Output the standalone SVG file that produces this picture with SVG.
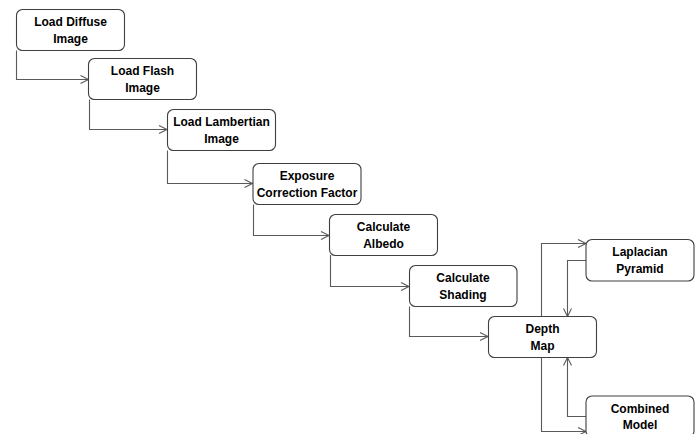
<svg xmlns="http://www.w3.org/2000/svg" width="699" height="434" viewBox="0 0 699 434">
<defs>
<style>
.box{fill:#ffffff;stroke:#3f3f3f;stroke-width:1.1}
.t{font-family:"Liberation Sans",Arial,sans-serif;font-weight:bold;font-size:12px;fill:#000;text-anchor:middle}
.c{fill:none;stroke:#5a5a5a;stroke-width:1.1}
</style>
<marker id="ah" markerUnits="userSpaceOnUse" markerWidth="10" markerHeight="10" refX="8" refY="4" orient="auto" viewBox="0 0 10 8" overflow="visible">
<path d="M0,0 L8,4 L0,8" fill="none" stroke="#5a5a5a" stroke-width="1.1"/>
</marker>
</defs>
<rect width="699" height="434" fill="#ffffff"/>
<g id="connectors">
<path class="c" d="M16.5,50.5 V79.5 H88.5" marker-end="url(#ah)"/>
<path class="c" d="M89.5,99.5 V129.5 H167" marker-end="url(#ah)"/>
<path class="c" d="M167.5,150.5 V183.5 H252.5" marker-end="url(#ah)"/>
<path class="c" d="M253.5,204.5 V235.5 H329" marker-end="url(#ah)"/>
<path class="c" d="M330.5,255 V286.5 H409" marker-end="url(#ah)"/>
<path class="c" d="M409.5,306.5 V336.5 H488" marker-end="url(#ah)"/>
<path class="c" d="M541.5,316.5 V243.5 H586" marker-end="url(#ah)"/>
<path class="c" d="M586,260.5 H567.5 V316.5" marker-end="url(#ah)"/>
<path class="c" d="M541.5,357.5 V431.5 H586" marker-end="url(#ah)"/>
<path class="c" d="M586,416.5 H567.5 V357.5" marker-end="url(#ah)"/>
</g>
<g id="n1"><rect class="box" x="16.5" y="9.5" width="108" height="41" rx="6"/><text class="t" x="70.5" y="26">Load Diffuse</text><text class="t" x="70.5" y="42.5">Image</text></g>
<g id="n2"><rect class="box" x="88.5" y="58.5" width="108" height="41" rx="6"/><text class="t" x="142.5" y="75">Load Flash</text><text class="t" x="142.5" y="91.5">Image</text></g>
<g id="n3"><rect class="box" x="167.5" y="109.5" width="108" height="41" rx="6"/><text class="t" x="221.5" y="126">Load Lambertian</text><text class="t" x="221.5" y="142.5">Image</text></g>
<g id="n4"><rect class="box" x="253" y="163.5" width="108" height="41" rx="6"/><text class="t" x="307" y="180">Exposure</text><text class="t" x="307" y="196.5">Correction Factor</text></g>
<g id="n5"><rect class="box" x="329.5" y="214.5" width="108" height="41" rx="6"/><text class="t" x="383.5" y="231">Calculate</text><text class="t" x="383.5" y="247.5">Albedo</text></g>
<g id="n6"><rect class="box" x="409.5" y="265.5" width="107.5" height="41" rx="6"/><text class="t" x="463" y="282">Calculate</text><text class="t" x="463" y="298.5">Shading</text></g>
<g id="n7"><rect class="box" x="488.5" y="316.5" width="108" height="41" rx="6"/><text class="t" x="542.5" y="333">Depth</text><text class="t" x="542.5" y="349.5">Map</text></g>
<g id="n8"><rect class="box" x="586" y="239.5" width="108" height="41.5" rx="6"/><text class="t" x="640" y="256">Laplacian</text><text class="t" x="640" y="272.5">Pyramid</text></g>
<g id="n9"><rect class="box" x="586" y="396" width="108" height="41" rx="6"/><text class="t" x="640" y="412.5">Combined</text><text class="t" x="640" y="429">Model</text></g>
</svg>
